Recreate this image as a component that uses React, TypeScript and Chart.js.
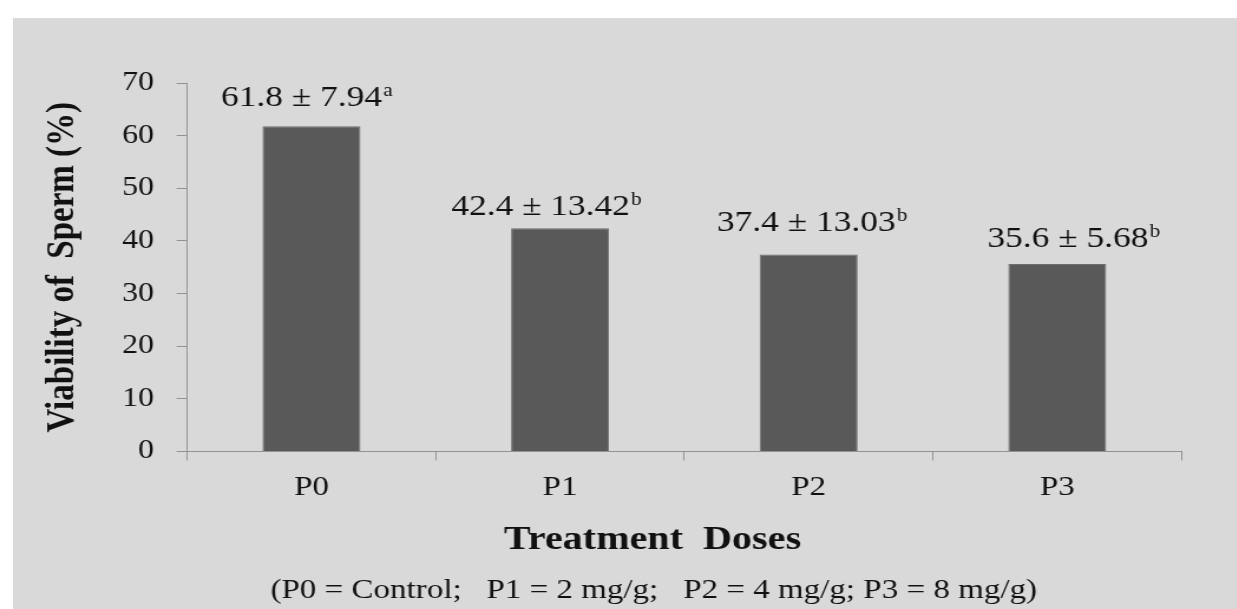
import React, { useEffect, useRef } from "react";
import { Chart, registerables } from "chart.js";

Chart.register(...registerables);

// ---- data ----
const categories = ["P0", "P1", "P2", "P3"];
const viability = [61.8, 42.4, 37.4, 35.6];
const sdValues = ["7.94", "13.42", "13.03", "5.68"];
const groupLetters = ["a", "b", "b", "b"];
const yMin = 0;
const yMax = 70;
const yStep = 10;
const xTitle = "Treatment  Doses";
const yTitle = "Viability of  Sperm (%)";
const footnote = "(P0 = Control;   P1 = 2 mg/g;   P2 = 4 mg/g; P3 = 8 mg/g)";

// ---- style ----
const SERIF = '"Liberation Serif", "Times New Roman", serif';
const TEXT = "#111111";
const AXIS = "#929292";
const BG = "#d9d9d9";
const BAR = "#595959";
const STRETCH = 1.18;
const OUTER_W = 1224;
const OUTER_H = 591;
const INNER_W = OUTER_W / STRETCH;
// hand placement of the value labels (px nudges relative to the bar)
const labelDx = [-4, -11.5, 3, 14];
const labelGap = [20, 13, 24, 17];

const annotPlugin = {
  id: "annot",
  afterDatasetsDraw(chart: any) {
    const ctx = chart.ctx as CanvasRenderingContext2D;
    const meta = chart.getDatasetMeta(0);
    ctx.save();
    ctx.fillStyle = TEXT;
    ctx.textAlign = "left";
    ctx.textBaseline = "alphabetic";
    meta.data.forEach((bar: any, i: number) => {
      const main = `${viability[i].toFixed(1)} \u00B1 ${sdValues[i]}`;
      ctx.font = `30px ${SERIF}`;
      const wMain = ctx.measureText(main).width;
      ctx.font = `18px ${SERIF}`;
      const wSup = ctx.measureText(groupLetters[i]).width;
      const total = wMain + 1 + wSup;
      const x0 = bar.x + labelDx[i] - total / 2;
      const base = bar.y - labelGap[i];
      ctx.font = `30px ${SERIF}`;
      ctx.fillText(main, x0, base);
      ctx.font = `18px ${SERIF}`;
      ctx.fillText(groupLetters[i], x0 + wMain + 1, base - 10);
    });
    ctx.textAlign = "center";
    ctx.font = `bold 34px ${SERIF}`;
    ctx.fillText(xTitle, 542, 531);
    ctx.font = `28px ${SERIF}`;
    ctx.fillText(footnote, 543, 580);
    ctx.restore();
  },
};

export default function App() {
  const ref = useRef<HTMLCanvasElement | null>(null);

  useEffect(() => {
    if (!ref.current) return;
    const chart = new Chart(ref.current, {
      type: "bar",
      data: {
        labels: categories,
        datasets: [
          {
            data: viability,
            backgroundColor: BAR,
            borderColor: "#6e6e6e",
            borderWidth: 1,
            categoryPercentage: 1,
            barPercentage: 0.394,
          },
        ],
      },
      options: {
        animation: false,
        responsive: true,
        maintainAspectRatio: false,
        layout: { padding: { left: 13, right: 47, top: 65, bottom: 95 } },
        plugins: {
          legend: { display: false },
          tooltip: { enabled: false },
        },
        scales: {
          x: {
            grid: {
              display: true,
              drawOnChartArea: false,
              drawTicks: true,
              tickLength: 9,
              color: AXIS,
              offset: true,
            },
            border: { display: true, color: AXIS, width: 1 },
            ticks: { color: TEXT, font: { family: SERIF, size: 28 }, padding: 10 },
          },
          y: {
            min: yMin,
            max: yMax,
            grid: { drawOnChartArea: false, drawTicks: true, tickLength: 9, color: AXIS },
            border: { display: true, color: AXIS, width: 1 },
            ticks: { stepSize: yStep, color: TEXT, font: { family: SERIF, size: 27 }, padding: 19 },
            title: {
              display: true,
              text: yTitle,
              color: TEXT,
              font: { family: SERIF, size: 33, weight: "bold" },
              padding: { top: 10, bottom: 11 },
            },
          },
        },
      },
      plugins: [annotPlugin],
    });
    return () => chart.destroy();
  }, []);

  return (
    <div
      style={{
        position: "absolute",
        left: 13,
        top: 18,
        width: OUTER_W,
        height: OUTER_H,
        background: BG,
        overflow: "hidden",
      }}
    >
      <div
        style={{
          position: "relative",
          width: INNER_W,
          height: OUTER_H,
          transform: `scaleX(${STRETCH})`,
          transformOrigin: "0 0",
        }}
      >
        <canvas ref={ref} />
      </div>
    </div>
  );
}
